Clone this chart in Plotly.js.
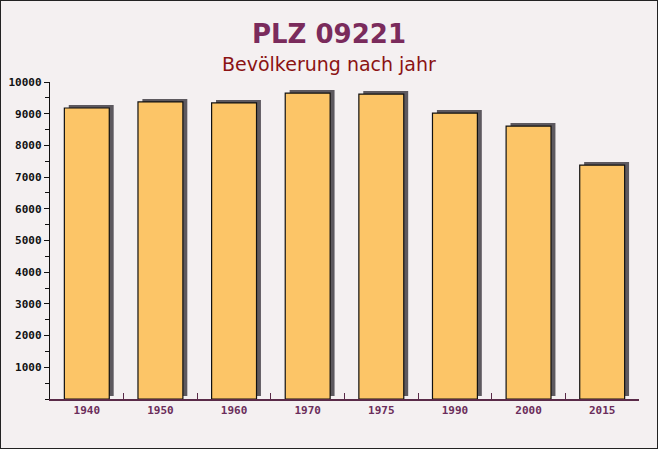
<!DOCTYPE html>
<html>
<head>
<meta charset="utf-8">
<script src="https://cdn.plot.ly/plotly-3.0.1.min.js"></script>
<style>
  html, body { margin: 0; padding: 0; background: #f4f0f1; }
  #wrap { width: 658px; height: 449px; box-sizing: border-box; border: 1px solid #222; overflow: hidden; }
  #chart { width: 656px; height: 447px; }
</style>
</head>
<body>
<div id="wrap"><div id="chart"></div></div>
<script>
const titleText = "PLZ 09221";
const subtitleText = "Bevölkerung nach jahr";
const years = ["1940", "1950", "1960", "1970", "1975", "1990", "2000", "2015"];
const population = [9180, 9370, 9340, 9650, 9620, 9020, 8610, 7380];
const yTickValues = [1000, 2000, 3000, 4000, 5000, 6000, 7000, 8000, 9000, 10000];

const barWidth = 0.61;

const shadow = {
  type: "bar",
  x: years,
  y: population,
  width: barWidth,
  offset: -barWidth / 2 + 0.06,
  base: 95,
  marker: { color: "#5d595f", line: { width: 0 } },
  hoverinfo: "skip",
  showlegend: false
};

const bars = {
  type: "bar",
  x: years,
  y: population,
  width: barWidth,
  offset: -barWidth / 2,
  marker: { color: "#fcc567", line: { color: "#111", width: 1.2 } },
  showlegend: false
};

const layout = {
  width: 656,
  height: 447,
  margin: { l: 49, r: 18, t: 81, b: 49 },
  paper_bgcolor: "#f4f0f1",
  plot_bgcolor: "rgba(0,0,0,0)",
  barmode: "overlay",
  title: {
    text: titleText,
    font: { family: "DejaVu Sans", size: 26, color: "#7a2b5c", weight: "bold" },
    x: 0.5, xanchor: "center",
    y: 1 - 33 / 447, yanchor: "middle"
  },
  annotations: [{
    text: subtitleText,
    xref: "paper", yref: "paper",
    x: 0.5 - (49 - 18) / 2 / 589, xanchor: "center",
    y: 1 + (81 - 63) / 317, yanchor: "middle",
    showarrow: false,
    font: { family: "DejaVu Sans", size: 19, color: "#8b1313" }
  }],
  xaxis: {
    type: "category",
    showgrid: false,
    showline: true,
    linecolor: "#5a2a48",
    linewidth: 1.5,
    ticks: "inside",
    tickson: "boundaries",
    ticklen: 6,
    tickcolor: "#5a2a48",
    tickfont: { family: "DejaVu Sans Mono", size: 11, color: "#6b2d5b", weight: "bold" },
    fixedrange: true
  },
  yaxis: {
    range: [0, 10000],
    tickvals: yTickValues,
    tickformat: "d",
    showgrid: false,
    zeroline: false,
    showline: true,
    linecolor: "#111",
    linewidth: 1.2,
    ticks: "outside",
    ticklen: 5,
    tickcolor: "#111",
    tickfont: { family: "DejaVu Sans Mono", size: 11, color: "#111", weight: "bold" },
    minor: { dtick: 500, ticks: "outside", ticklen: 4, tickcolor: "#111", showgrid: false },
    fixedrange: true
  }
};

Plotly.newPlot("chart", [shadow, bars], layout, { displayModeBar: false, staticPlot: true });
</script>
</body>
</html>
